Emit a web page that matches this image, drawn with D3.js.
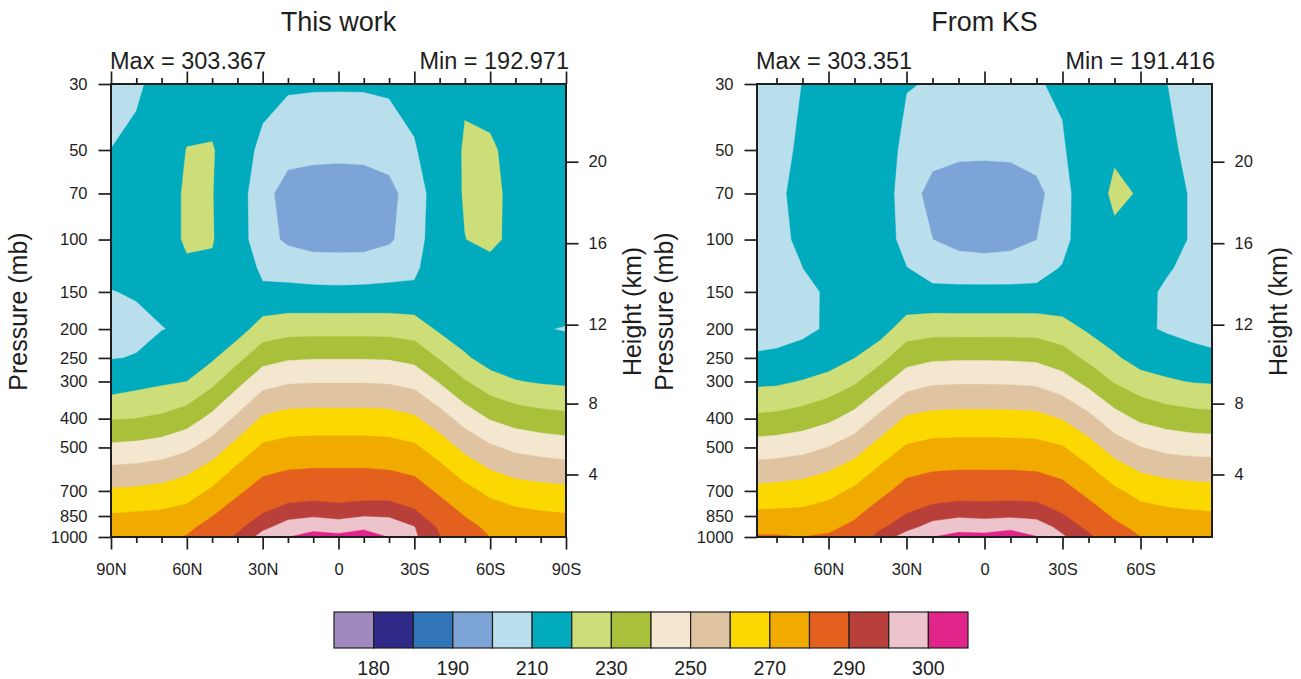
<!DOCTYPE html>
<html>
<head>
<meta charset="utf-8">
<script src="https://cdn.jsdelivr.net/npm/d3@7"></script>
<style>
body { margin: 0; background: #fff; }
svg { display: block; font-family: "Liberation Sans", Arial, Helvetica, sans-serif; }
</style>
</head>
<body>
<svg id="chart" width="1301" height="679"></svg>
<script>
// pressure levels of the data rows, top (30 mb) to bottom (1000 mb)
var pressureLevels = [30, 50, 70, 100, 125, 150, 200, 250, 300, 400, 500, 600, 700, 850, 925, 1000];

// latitude columns, north to south
var latsWork = [90, 80, 70, 60, 50, 40, 30, 20, 10, 0, -10, -20, -30, -40, -50, -60, -70, -80, -90];
var latsKS = [87.5, 80, 70, 60, 50, 40, 30, 20, 10, 0, -10, -20, -30, -40, -50, -60, -70, -80, -87.5];

// zonal mean temperature (K), one row per pressure level
var tempWork = [
  [208, 209.3, 211.5, 214, 214.5, 213, 212.25, 211.0, 210.9, 210.9, 210.9, 211.4, 212.0, 213, 218.8, 215, 213, 212.5, 212],
  [210.05, 211.0, 213.0, 220.3, 220.8, 213, 208.5, 205, 203.5, 203.1, 203.5, 205, 209.5, 213.5, 220.97, 221.7, 216, 214, 213],
  [212, 213, 216.5, 221.0, 220.3, 213.5, 205.0, 194.0, 193.2, 193.0, 193.2, 196.3, 206.2, 214, 220.8, 222.8, 217, 215, 214],
  [212.5, 213.5, 216.5, 221.0, 220.5, 214, 204.7, 197.8, 194, 193.5, 194, 198.2, 206.7, 214.5, 219.86, 222, 217.6, 215, 214],
  [211.6, 212, 215, 218.9, 218.8, 214, 208.8, 208.0, 207.7, 207.6, 207.7, 208.0, 208.7, 214.5, 217.5, 217.3, 216, 214, 213],
  [209.8, 210.5, 212.5, 216.5, 216, 213.5, 211, 211.3, 211, 210.9, 211, 211.3, 211.3, 213.5, 215.5, 216, 214.5, 213.5, 213],
  [206.5, 208.5, 209.7, 211.4, 213.5, 215.6, 224.6, 226.5, 226.7, 226.7, 226.7, 226.5, 225.3, 218.4, 214, 212.5, 211.5, 210.3, 209.7],
  [209.7, 210.3, 214.6, 215.5, 218.6, 227.2, 236.3, 238.9, 239.4, 239.4, 239.4, 239.1, 237.0, 229.3, 221.5, 215.5, 213.5, 212.8, 213.0],
  [214.6, 216.8, 218.5, 220.0, 227.4, 237.0, 246.3, 248.9, 249.4, 249.4, 249.4, 248.9, 247.0, 239.2, 230.6, 224.3, 220.5, 219.0, 218.2],
  [229.4, 230.1, 231.7, 235.5, 242.8, 252.1, 261.4, 263.9, 264.3, 264.3, 264.3, 263.7, 261.4, 254.5, 246.1, 239.4, 235.9, 234.0, 232.9],
  [242.1, 242.8, 244.6, 248.1, 254.6, 263.6, 271.6, 273.5, 273.9, 273.9, 273.9, 273.5, 271.6, 265.3, 257.4, 251.5, 247.8, 246.1, 244.9],
  [252.6, 253.4, 254.9, 258.3, 264.1, 272.3, 278.4, 280.3, 280.8, 280.8, 280.8, 280.3, 278.4, 273.0, 266.1, 260.4, 257.1, 255.7, 254.7],
  [261.3, 261.9, 263.1, 265.6, 271.4, 278.3, 283.9, 286.3, 286.9, 286.5, 286.9, 287.0, 284.5, 278.5, 272.7, 267.9, 264.5, 263.2, 262.4],
  [271.0, 271.7, 272.3, 274.2, 279.8, 285.5, 290.7, 293.8, 294.6, 293.8, 294.8, 294.6, 292.1, 285.8, 279.8, 275.0, 273.1, 271.8, 270.9],
  [273.5, 274.5, 276.1, 277.9, 283.4, 288.7, 293.7, 297.1, 298.4, 297.6, 298.6, 297.4, 295.1, 289.1, 283.0, 277.9, 276.0, 275.0, 274.0],
  [276, 277, 278.6, 280.5, 286.7, 290.9, 297, 299.9, 301.9, 301.3, 303.37, 299.8, 295.8, 290.3, 286.0, 279.95, 278.5, 277.8, 277.0]
];

var tempKS = [
  [208, 208.5, 210.05, 212, 212, 212, 210.25, 209.7, 209.5, 209.5, 209.5, 209.7, 210.6, 212, 212.5, 212, 210.05, 208.5, 208],
  [208.5, 209, 210.54, 212, 213, 213, 208.45, 204.5, 203, 202.7, 203, 204.5, 209.5, 213, 219.3, 216, 211, 208.8, 208.3],
  [208.8, 209.3, 211.1, 213, 213.5, 214, 206.3, 195.4, 192, 191.42, 192.3, 196.9, 206.3, 216.8, 221, 219.6, 211.5, 209.6, 209],
  [208.8, 209.2, 210.6, 212.5, 213.5, 214, 207.3, 200.1, 195, 193, 195, 199.9, 207.9, 214.5, 218.9, 217, 211.5, 209.6, 209],
  [209, 209.3, 209.95, 212, 213, 213.5, 210.2, 207.8, 207.6, 207.5, 207.6, 207.8, 210.4, 213.5, 215, 213, 210.5, 208.6, 208.3],
  [208, 208.2, 208.5, 210.74, 212.5, 213, 211.4, 211.2, 211.1, 211.1, 211.1, 211.3, 211.8, 213, 213.5, 211.5, 209.2, 208.3, 208],
  [207, 207.5, 208.5, 210.8, 213.5, 215.6, 225.25, 226.5, 226.5, 226.5, 226.5, 226.3, 224.1, 218.6, 213.5, 211.5, 209.1, 207.5, 207],
  [210.85, 211.2, 212.7, 214.9, 219.9, 227.2, 236.1, 238.5, 238.9, 238.9, 238.7, 238.1, 234.5, 227.8, 221.6, 215.5, 215, 212.8, 211.5],
  [217.8, 218.25, 220.5, 223.6, 228.6, 237.0, 245.6, 248.4, 248.9, 248.9, 248.7, 248.0, 244.1, 237.0, 229.2, 224.25, 221.1, 219.5, 219.0],
  [232.1, 232.7, 234.8, 238.1, 243.7, 252.8, 261.3, 263.25, 263.7, 263.7, 263.5, 263.0, 259.5, 252.8, 244.1, 238.25, 235.5, 233.9, 233.3],
  [244.6, 245.3, 246.8, 250.3, 255.6, 264.0, 271.1, 273.0, 273.3, 273.3, 273.2, 272.9, 270.7, 264.0, 255.6, 250.3, 247.4, 246.2, 245.9],
  [254.7, 255.4, 256.9, 259.7, 264.75, 272.1, 277.9, 279.8, 280.3, 280.3, 280.3, 279.8, 277.4, 272.1, 264.75, 259.4, 257.1, 256.1, 255.7],
  [262.9, 263.4, 264.5, 267.0, 271.7, 277.5, 283.6, 286.1, 287.0, 287.0, 287.2, 286.8, 283.3, 277.5, 271.7, 266.7, 264.5, 263.5, 263.1],
  [272.5, 272.7, 273.0, 274.9, 278.9, 285.3, 290.7, 293.5, 294.4, 294.0, 294.4, 294.0, 290.7, 285.1, 278.9, 274.6, 273.1, 272.0, 271.4],
  [277.0, 276.9, 276.6, 278.1, 282.0, 289.0, 293.4, 296.7, 298.1, 297.8, 298.4, 297.1, 293.7, 288.5, 282.0, 277.7, 276.2, 275.3, 275.0],
  [281, 280.8, 280.1, 281.1, 285.0, 292.5, 297, 299.95, 301.7, 301.5, 303.35, 300.2, 295.6, 291.5, 284, 280.1, 279.2, 278.5, 278]
];

var contourLevels = [180, 185, 190, 200, 210, 220, 230, 240, 250, 260, 270, 280, 290, 295, 300];
var fillColors = ["#9f89bf", "#2f2a87", "#3274b8", "#7ca4d6", "#b8dfeb", "#00abbe", "#cddd78", "#a9c03a",
                  "#f3e7d0", "#e0c4a2", "#fbd800", "#f0aa00", "#e3601f", "#b83f3a", "#edc3cc", "#e0248a"];
var barLabels = ["180", "", "190", "", "210", "", "230", "", "250", "", "270", "", "290", "", "300"];

var presTicks = [30, 50, 70, 100, 150, 200, 250, 300, 400, 500, 700, 850, 1000];
var heightTicks = [4, 8, 12, 16, 20];
var latTicks = [90, 80, 70, 60, 50, 40, 30, 20, 10, 0, -10, -20, -30, -40, -50, -60, -70, -80, -90];

var panels = [
    { title: "This work", maxText: "Max = 303.367", minText: "Min = 192.971", lats: latsWork, temp: tempWork, left: 111 },
    { title: "From KS", maxText: "Max = 303.351", minText: "Min = 191.416", lats: latsKS, temp: tempKS, left: 757 }
];

var W = 455, H = 453, plotTop = 84;
var ink = "#1e1e1e";

var svg = d3.select("#chart");
svg.append("rect").attr("width", 1301).attr("height", 679).attr("fill", "#fff");

// US standard atmosphere, height (km) -> pressure (mb)
function stdPress(z) {
    if (z <= 11) return 1013.25 * Math.pow(1 - 0.0065 * z * 1000 / 288.15, 5.25588);
    if (z <= 20) return 226.32 * Math.exp(-(z - 11) * 1000 / 6341.62);
    return 54.749 * Math.pow(1 + (z - 20) / 216.65, -34.1632);
}

function latLabel(d) {
    if (d == 0) return "0";
    return d > 0 ? d + "N" : (-d) + "S";
}

function styleAxis(g, size) {
    g.attr("font-family", null);
    g.select(".domain").remove();
    g.selectAll("line").attr("stroke", ink).attr("stroke-width", 1.7);
    g.selectAll("text").attr("font-size", size).attr("fill", ink);
}

panels.forEach(function(p, k) {
    var lats = p.lats;
    var x = d3.scaleLinear().domain([lats[0], lats[lats.length - 1]]).range([p.left, p.left + W]);
    var y = d3.scaleLog().domain([30, 1000]).range([plotTop, plotTop + H]);

    var nx = lats.length, ny = pressureLevels.length;
    var values = [];
    p.temp.forEach(function(row) { row.forEach(function(v) { values.push(v); }); });

    var contours = d3.contours().size([nx, ny]).thresholds(contourLevels)(values);

    // grid coordinates -> screen, piecewise linear between data nodes
    function gx(c) {
        var g = Math.max(0, Math.min(nx - 1, c - 0.5));
        var i = Math.min(Math.floor(g), nx - 2), f = g - i;
        return x(lats[i]) + f * (x(lats[i + 1]) - x(lats[i]));
    }
    function gy(c) {
        var g = Math.max(0, Math.min(ny - 1, c - 0.5));
        var j = Math.min(Math.floor(g), ny - 2), f = g - j;
        return y(pressureLevels[j]) + f * (y(pressureLevels[j + 1]) - y(pressureLevels[j]));
    }
    var path = d3.geoPath(d3.geoTransform({
        point: function(px, py) { this.stream.point(gx(px), gy(py)); }
    }));

    svg.append("clipPath").attr("id", "clip" + k)
        .append("rect").attr("x", p.left).attr("y", plotTop).attr("width", W).attr("height", H);

    var plot = svg.append("g").attr("clip-path", "url(#clip" + k + ")");
    plot.append("rect").attr("x", p.left).attr("y", plotTop).attr("width", W).attr("height", H)
        .attr("fill", fillColors[0]);
    plot.selectAll("path")
        .data(contours)
        .enter()
        .append("path")
        .attr("d", path)
        .attr("fill", function(d, i) { return fillColors[i + 1]; })
        .attr("stroke", function(d, i) { return fillColors[i + 1]; })
        .attr("stroke-width", 0.4);

    // axes
    var xMajor = latTicks.filter(function(d) { return d % 30 == 0 && Math.abs(d) <= Math.abs(lats[0]); });
    var xMinor = latTicks.filter(function(d) { return d % 30 != 0 && Math.abs(d) <= Math.abs(lats[0]); });

    svg.append("g").attr("transform", "translate(0," + (plotTop + H) + ")")
        .call(d3.axisBottom(x).tickValues(xMajor).tickFormat(latLabel).tickSizeInner(12.5).tickSizeOuter(0).tickPadding(13.5))
        .call(styleAxis, 16.5);
    svg.append("g").attr("transform", "translate(0," + (plotTop + H) + ")")
        .call(d3.axisBottom(x).tickValues(xMinor).tickFormat("").tickSizeInner(6).tickSizeOuter(0))
        .call(styleAxis, 16.5);
    svg.append("g").attr("transform", "translate(0," + plotTop + ")")
        .call(d3.axisTop(x).tickValues(xMajor).tickFormat("").tickSizeInner(12.5).tickSizeOuter(0))
        .call(styleAxis, 16.5);
    svg.append("g").attr("transform", "translate(0," + plotTop + ")")
        .call(d3.axisTop(x).tickValues(xMinor).tickFormat("").tickSizeInner(6).tickSizeOuter(0))
        .call(styleAxis, 16.5);

    svg.append("g").attr("transform", "translate(" + p.left + ",0)")
        .call(d3.axisLeft(y).tickValues(presTicks).tickFormat(d3.format("d")).tickSizeInner(12.5).tickSizeOuter(0).tickPadding(11))
        .call(styleAxis, 16.5);

    svg.append("g").attr("transform", "translate(" + (p.left + W) + ",0)")
        .call(d3.axisRight(y).tickValues(heightTicks.map(stdPress))
            .tickFormat(function(d, i) { return heightTicks[i]; })
            .tickSizeInner(12.5).tickSizeOuter(0).tickPadding(10))
        .call(styleAxis, 16.5);

    // frame
    svg.append("rect").attr("x", p.left).attr("y", plotTop).attr("width", W).attr("height", H)
        .attr("fill", "none").attr("stroke", ink).attr("stroke-width", 2);

    // titles
    svg.append("text").attr("x", p.left + W / 2).attr("y", 31)
        .attr("text-anchor", "middle").attr("font-size", 27).attr("fill", ink).text(p.title);
    svg.append("text").attr("x", p.left - 1).attr("y", 69)
        .attr("font-size", 23.5).attr("fill", ink).text(p.maxText);
    svg.append("text").attr("x", p.left + W + 3).attr("y", 69)
        .attr("text-anchor", "end").attr("font-size", 23.5).attr("fill", ink).text(p.minText);

    svg.append("text")
        .attr("transform", "translate(" + (p.left - 84) + "," + (plotTop + H / 2 + 1) + ") rotate(-90)")
        .attr("text-anchor", "middle").attr("font-size", 25).attr("fill", ink).text("Pressure (mb)");
    svg.append("text")
        .attr("transform", "translate(" + (p.left + W + 75) + "," + (plotTop + H / 2 + 1) + ") rotate(-90)")
        .attr("text-anchor", "middle").attr("font-size", 25).attr("fill", ink).text("Height (km)");
});

// label bar
var bar = { x: 334, y: 612, w: 634, h: 36 };
var bx = d3.scaleLinear().domain([0, fillColors.length]).range([bar.x, bar.x + bar.w]);
var legend = svg.append("g");
legend.selectAll("rect")
    .data(fillColors)
    .enter()
    .append("rect")
    .attr("x", function(d, i) { return bx(i); })
    .attr("y", bar.y)
    .attr("width", bx(1) - bx(0))
    .attr("height", bar.h)
    .attr("fill", function(d) { return d; })
    .attr("stroke", ink)
    .attr("stroke-width", 1.2);
legend.selectAll("text")
    .data(barLabels)
    .enter()
    .append("text")
    .attr("x", function(d, i) { return bx(i + 1); })
    .attr("y", 675)
    .attr("text-anchor", "middle")
    .attr("font-size", 19.5)
    .attr("fill", ink)
    .text(function(d) { return d; });
</script>
</body>
</html>
